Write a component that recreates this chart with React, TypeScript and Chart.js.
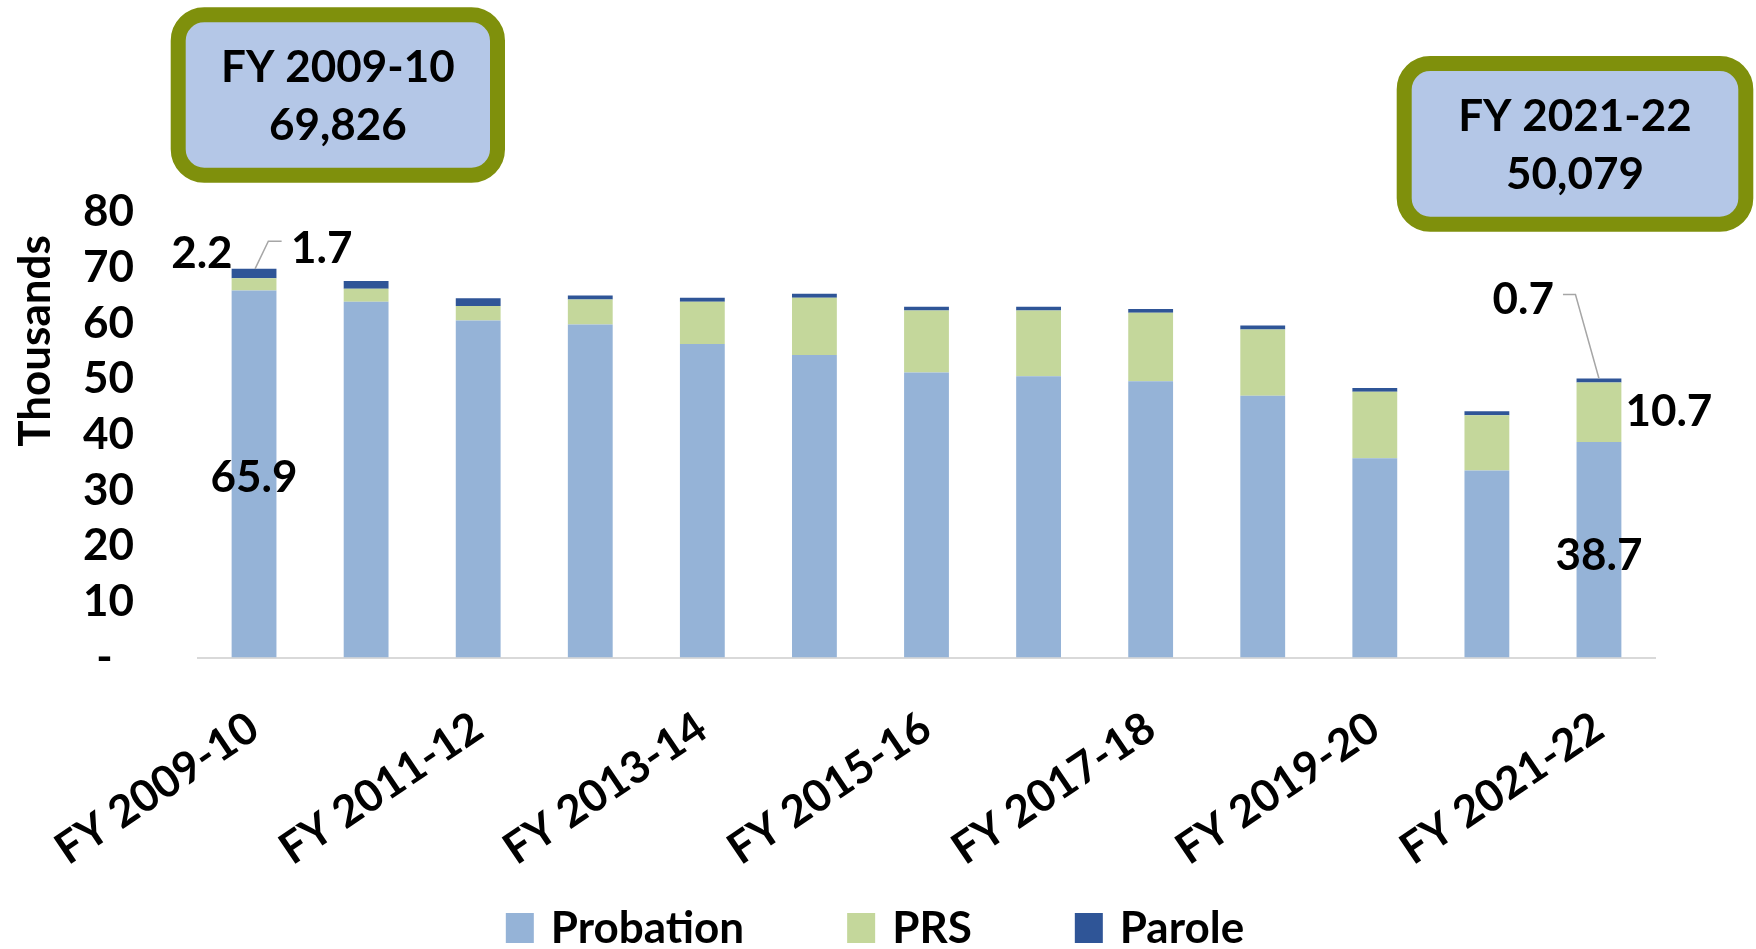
import React, { useEffect, useRef } from "react";
import { Chart, registerables } from "chart.js";

Chart.register(...registerables);

// ---------- data ----------
const categories = [
  "FY 2009-10", "FY 2010-11", "FY 2011-12", "FY 2012-13", "FY 2013-14",
  "FY 2014-15", "FY 2015-16", "FY 2016-17", "FY 2017-18", "FY 2018-19",
  "FY 2019-20", "FY 2020-21", "FY 2021-22",
];
const probation = [65.9, 63.9, 60.5, 59.8, 56.3, 54.3, 51.2, 50.5, 49.6, 47.0, 35.8, 33.6, 38.7];
const prs = [2.2, 2.3, 2.6, 4.5, 7.6, 10.3, 11.1, 11.8, 12.3, 11.9, 11.9, 9.9, 10.7];
const parole = [1.7, 1.4, 1.4, 0.7, 0.7, 0.7, 0.7, 0.7, 0.7, 0.7, 0.7, 0.7, 0.7];
const seriesNames = ["Probation", "PRS", "Parole"];
const yTickValues = [0, 10, 20, 30, 40, 50, 60, 70, 80];
const zeroTickLabel = "-  ";
const yTitle = "Thousands";
const calloutFirst = ["FY 2009-10", "69,826"];
const calloutLast = ["FY 2021-22", "50,079"];

// ---------- styles ----------
const COLORS = ["#95B3D7", "#C4D79B", "#2F5597"];
const FAMILY = "Lato, 'Open Sans', sans-serif";
const FS = 44;
const font = (s: number) => `bold ${s}px ${FAMILY}`;
const W = 1756;
const H = 949;

function drawCallout(ctx: CanvasRenderingContext2D, x: number, y: number, w: number, h: number, lines: string[]) {
  ctx.save();
  ctx.beginPath();
  (ctx as any).roundRect(x, y, w, h, 26);
  ctx.fillStyle = "#B4C7E7";
  ctx.fill();
  ctx.lineWidth = 15;
  ctx.strokeStyle = "#7F900C";
  ctx.stroke();
  ctx.fillStyle = "#000";
  ctx.font = font(FS);
  ctx.textAlign = "center";
  ctx.textBaseline = "alphabetic";
  const cx = x + w / 2;
  const cy = y + h / 2;
  ctx.fillText(lines[0], cx, cy - 13);
  ctx.fillText(lines[1], cx, cy + 45);
  ctx.restore();
}

const overlayPlugin = {
  id: "overlay",
  afterDraw(chart: any) {
    const ctx: CanvasRenderingContext2D = chart.ctx;
    ctx.save();

    // y-axis title
    ctx.save();
    ctx.translate(49.8, 341);
    ctx.rotate(-Math.PI / 2);
    ctx.font = font(FS);
    ctx.fillStyle = "#000";
    ctx.textAlign = "center";
    ctx.textBaseline = "alphabetic";
    ctx.fillText(yTitle, 0, 0);
    ctx.restore();

    // callouts
    drawCallout(ctx, 178.2, 14.8, 319.3, 160.4, calloutFirst);
    drawCallout(ctx, 1404.2, 63.5, 341.6, 160.7, calloutLast);

    // data labels for first and last bars
    const m0 = chart.getDatasetMeta(0).data;
    const m1 = chart.getDatasetMeta(1).data;
    const m2 = chart.getDatasetMeta(2).data;
    ctx.font = font(FS);
    ctx.fillStyle = "#000";
    ctx.textBaseline = "alphabetic";

    // first bar
    {
      const i = 0;
      const p = m0[i], r = m2[i];
      const cx = p.x;
      const top = r.y;
      ctx.textAlign = "center";
      ctx.fillText(probation[i].toFixed(1), cx, (p.y + p.base) / 2 + 18);
      ctx.textAlign = "right";
      ctx.fillText(prs[i].toFixed(1), cx - p.width / 2 + 1, top - 1);
      ctx.textAlign = "left";
      ctx.fillText(parole[i].toFixed(1), cx + 37, top - 6.3);
      ctx.strokeStyle = "#A6A6A6";
      ctx.lineWidth = 1.5;
      ctx.beginPath();
      ctx.moveTo(cx + 1, top);
      ctx.lineTo(cx + 14.3, top - 27.6);
      ctx.lineTo(cx + 27.6, top - 27.6);
      ctx.stroke();
    }
    // last bar
    {
      const i = categories.length - 1;
      const p = m0[i], g = m1[i], r = m2[i];
      const cx = p.x;
      const top = r.y;
      ctx.textAlign = "center";
      ctx.fillText(probation[i].toFixed(1), cx, (p.y + p.base) / 2 + 20);
      ctx.textAlign = "left";
      ctx.fillText(prs[i].toFixed(1), cx + p.width / 2 + 4, (g.y + g.base) / 2 + 14);
      ctx.textAlign = "right";
      ctx.fillText(parole[i].toFixed(1), cx - 45, top - 65);
      ctx.strokeStyle = "#A6A6A6";
      ctx.lineWidth = 1.5;
      ctx.beginPath();
      ctx.moveTo(cx, top);
      ctx.lineTo(cx - 23.5, top - 84);
      ctx.lineTo(cx - 36, top - 84);
      ctx.stroke();
    }

    // legend
    ctx.font = font(FS);
    ctx.textAlign = "left";
    const boxW = 28, boxH = 30, gapText = 17, gapItem = 103;
    const widths = seriesNames.map((n) => boxW + gapText + ctx.measureText(n).width);
    const total = widths.reduce((a, b) => a + b, 0) + gapItem * (widths.length - 1);
    let lx = 875 - total / 2;
    seriesNames.forEach((n, k) => {
      ctx.fillStyle = COLORS[k];
      ctx.fillRect(lx, 913, boxW, boxH);
      ctx.fillStyle = "#000";
      ctx.fillText(n, lx + boxW + gapText, 942.7);
      lx += widths[k] + gapItem;
    });

    ctx.restore();
  },
};

export default function App() {
  const ref = useRef<HTMLCanvasElement>(null);
  useEffect(() => {
    document.body.style.margin = "0";
    let alive = true;
    const chart = new Chart(ref.current as HTMLCanvasElement, {
      type: "bar",
      data: {
        labels: categories,
        datasets: [
          { label: seriesNames[0], data: probation, backgroundColor: COLORS[0], borderWidth: 0 },
          { label: seriesNames[1], data: prs, backgroundColor: COLORS[1], borderWidth: 0 },
          { label: seriesNames[2], data: parole, backgroundColor: COLORS[2], borderWidth: 0 },
        ],
      },
      options: {
        animation: false,
        responsive: true,
        maintainAspectRatio: false,
        datasets: { bar: { barPercentage: 0.4, categoryPercentage: 1 } },
        layout: { padding: { top: 212, right: 101, left: 0, bottom: 0 } },
        plugins: { legend: { display: false }, tooltip: { enabled: false } },
        scales: {
          x: {
            stacked: true,
            grid: { display: false, drawTicks: false },
            border: { display: true, color: "#D9D9D9", width: 2 },
            afterFit: (s: any) => { s.height = H - 657.5; },
            ticks: {
              autoSkip: false,
              minRotation: 34,
              maxRotation: 34,
              padding: 44,
              labelOffset: 0,
              color: "#000",
              font: { family: FAMILY, size: FS, weight: "bold" },
              callback: (_v: any, idx: number) => (idx % 2 === 0 ? categories[idx] : ""),
            },
          },
          y: {
            stacked: true,
            min: 0,
            max: 80,
            grid: { display: false, drawTicks: false },
            border: { display: false },
            afterFit: (s: any) => { s.width = 198; },
            afterBuildTicks: (s: any) => { s.ticks = yTickValues.map((v) => ({ value: v })); },
            ticks: {
              autoSkip: false,
              padding: 64,
              color: "#000",
              font: { family: FAMILY, size: FS, weight: "bold" },
              callback: (v: any) => (Number(v) === 0 ? zeroTickLabel : String(v)),
            },
          },
        },
      } as any,
      plugins: [overlayPlugin],
    });
    if ((document as any).fonts && (document as any).fonts.ready) {
      (document as any).fonts.ready.then(() => { if (alive) chart.update(); });
    }
    return () => { alive = false; chart.destroy(); };
  }, []);
  return (
    <div style={{ width: W, height: H, position: "relative" }}>
      <canvas ref={ref} style={{ display: "block" }} />
    </div>
  );
}
